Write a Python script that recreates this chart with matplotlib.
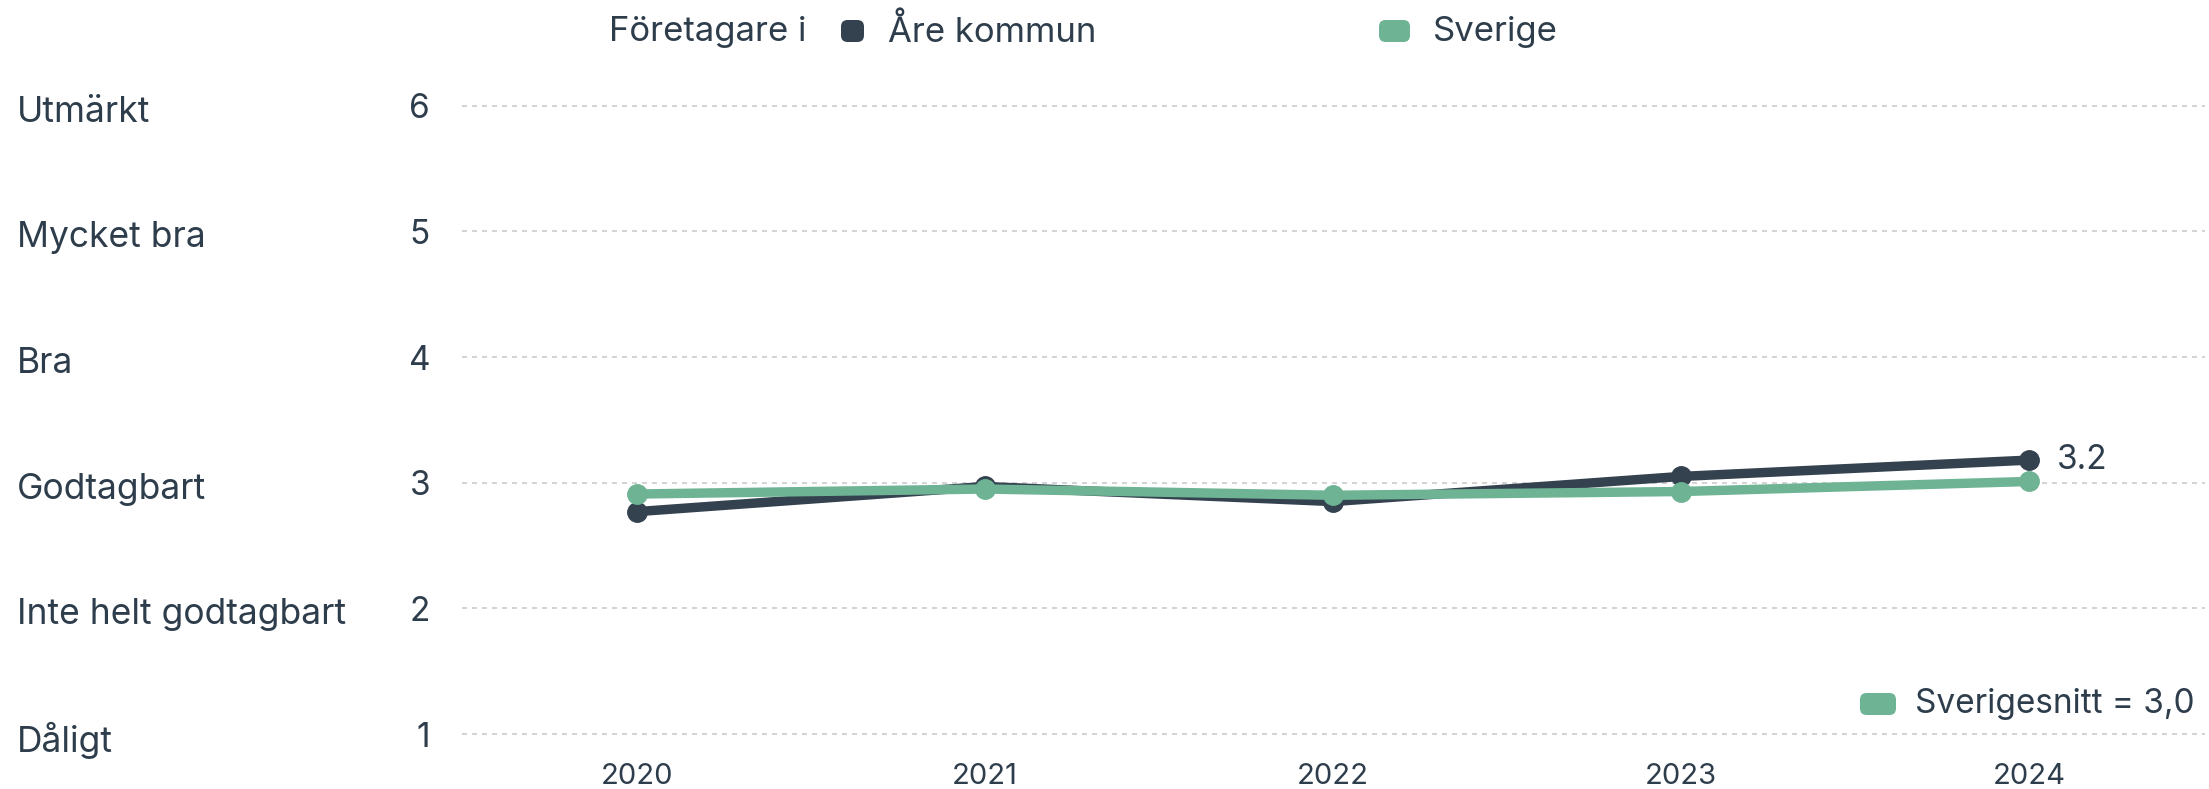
import matplotlib
matplotlib.use('Agg')
import matplotlib.pyplot as plt
from matplotlib.patches import FancyBboxPatch
from matplotlib.transforms import blended_transform_factory, offset_copy

years = ['2020', '2021', '2022', '2023', '2024']
are_kommun = [2.77, 2.97, 2.85, 3.05, 3.18]
sverige = [2.91, 2.95, 2.90, 2.93, 3.01]
y_ticks = [1, 2, 3, 4, 5, 6]
y_names = ['Dåligt', 'Inte helt godtagbart', 'Godtagbart', 'Bra', 'Mycket bra', 'Utmärkt']
sverige_snitt = '3,0'

DARK = '#34414f'
GREEN = '#6db394'
TEXT = '#2e3d4c'
GRID = '#cccccc'

plt.rcParams['font.family'] = ['Inter', 'DejaVu Sans']

W, H = 2209, 789
fig = plt.figure(figsize=(W / 100, H / 100), dpi=100)
ax = fig.add_axes([462 / W, 0.04575, (2205 - 462) / W, 0.8521])

x = list(range(len(years)))
ax.plot(x, are_kommun, color=DARK, lw=6.8, marker='o', ms=14, zorder=3)
ax.plot(x, sverige, color=GREEN, lw=6.8, marker='o', ms=14, zorder=4)

ax.set_xlim(-0.503, len(years) - 1 + 0.506)
ax.set_ylim(0.85, 6.2)
ax.set_yticks(y_ticks)
ax.set_yticklabels([str(v) for v in y_ticks], fontsize=24, color=TEXT)
ax.set_xticks(x)
ax.set_xticklabels(years, fontsize=21, color=TEXT)
ax.tick_params(axis='y', length=0, pad=23)
ax.tick_params(axis='x', length=0, pad=7)
for s in ax.spines.values():
    s.set_visible(False)
ax.grid(axis='y', color=GRID, lw=1.2, linestyle=(0, (3, 3)))
ax.set_axisbelow(True)

# category names on the far left, sitting a little below their gridline
trans = blended_transform_factory(fig.transFigure, ax.transData)
trans = offset_copy(trans, fig=fig, y=-2, units='points')
for v, name in zip(y_ticks, y_names):
    ax.text(17 / W, v, name, transform=trans, fontsize=25.5, color=TEXT,
            ha='left', va='center_baseline', clip_on=False)

# end label
ax.annotate(f'{are_kommun[-1]:.1f}', (x[-1], are_kommun[-1]), xytext=(20, 0),
            textcoords='offset points', fontsize=24, color=TEXT, va='center', ha='left')


def swatch(x0, y0, w, h, color):
    fig.add_artist(FancyBboxPatch((x0 / W, 1 - (y0 + h) / H), w / W, h / H,
                                  boxstyle='round,pad=0,rounding_size=0.003',
                                  transform=fig.transFigure, fc=color, ec='none',
                                  mutation_aspect=W / H))


# top legend
fig.text(609 / W, 1 - 32 / H, 'Företagare i', fontsize=25, color=TEXT, va='center')
swatch(841, 20, 23, 22, DARK)
fig.text(888 / W, 1 - 32 / H, 'Åre kommun', fontsize=25, color=TEXT, va='center')
swatch(1379, 20, 31, 22, GREEN)
fig.text(1433 / W, 1 - 32 / H, 'Sverige', fontsize=25, color=TEXT, va='center')

# bottom right legend
swatch(1860, 693, 36, 22, GREEN)
fig.text(1915 / W, 1 - 704 / H, f'Sverigesnitt = {sverige_snitt}', fontsize=24,
         color=TEXT, va='center')

fig.savefig('out.png', dpi=100)
